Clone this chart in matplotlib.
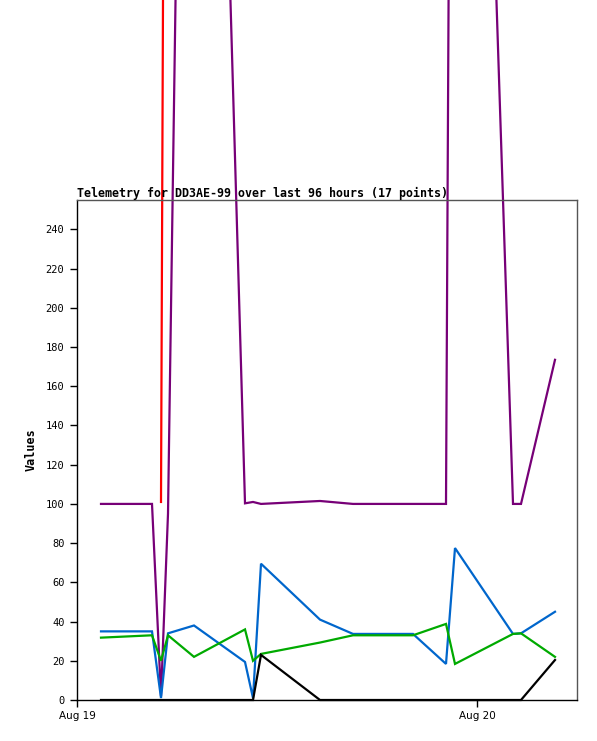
import matplotlib
matplotlib.use("Agg")
import matplotlib.pyplot as plt
import numpy as np

nan = np.nan

# sample times, hours after Aug 19 00:00
hours = [1.44, 4.5, 5.04, 5.46, 7.02, 10.08, 10.56, 11.04, 14.58, 16.56,
         18.36, 20.16, 22.14, 22.68, 26.16, 26.64, 28.68]

purple = [100, 100, 2, 95, 1000, 100.3, 101, 100, 101.5, 100,
          100, 100, 100, 1000, 100, 100, 173.5]
red = [nan, nan, 101, 1000, nan, nan, nan, nan, nan, nan,
       nan, nan, nan, nan, nan, nan, nan]
blue = [35, 35, 1, 34, 38, 19.4, 1, 69.5, 41, 33.7,
        33.7, 33.7, 18.4, 77.5, 33.7, 34, 45]
green = [31.8, 33, 20, 33, 22, 36, 20, 23.5, 29.3, 33,
         33, 33, 38.8, 18.4, 33.7, 34, 22]
black = [0, 0, 0, 0, 0, 0, 0, 23, 0, 0,
         0, 0, 0, 0, 0, 0, 20.4]

series = [
    (purple, "#770077"),
    (red, "#ff0000"),
    (blue, "#0066cc"),
    (green, "#00aa00"),
    (black, "#000000"),
]

yticks = list(range(0, 241, 20))
xtick_pos = [0, 24]
xtick_labels = ["Aug 19", "Aug 20"]

fig = plt.figure(figsize=(5.97, 7.41), dpi=100)
ax = fig.add_axes([77 / 597, 1 - 700 / 741, 500 / 597, 500 / 741])

for vals, col in series:
    ax.plot(hours, vals, color=col, lw=1.6, clip_on=False, solid_joinstyle="miter")

ax.set_xlim(0, 30)
ax.set_ylim(0, 255)
ax.set_yticks(yticks)
ax.set_yticklabels([str(v) for v in yticks], family="DejaVu Sans Mono", fontsize=7.5)
ax.set_xticks(xtick_pos)
ax.set_xticklabels(xtick_labels, family="DejaVu Sans", fontsize=7.5)
ax.tick_params(axis="y", length=5, width=1, pad=4)
ax.tick_params(axis="x", length=5, width=1, pad=3)

for side in ["left", "bottom"]:
    ax.spines[side].set_color("black")
for side in ["top", "right"]:
    ax.spines[side].set_color("#555555")
for sp in ax.spines.values():
    sp.set_linewidth(1)

ax.set_ylabel("Values", family="DejaVu Sans Mono", fontweight="bold", fontsize=8.5, labelpad=6)
ax.set_title("Telemetry for DD3AE-99 over last 96 hours (17 points)",
             loc="left", family="DejaVu Sans Mono", fontweight="bold", fontsize=8.4, pad=2)

fig.savefig("out.png", dpi=100)
